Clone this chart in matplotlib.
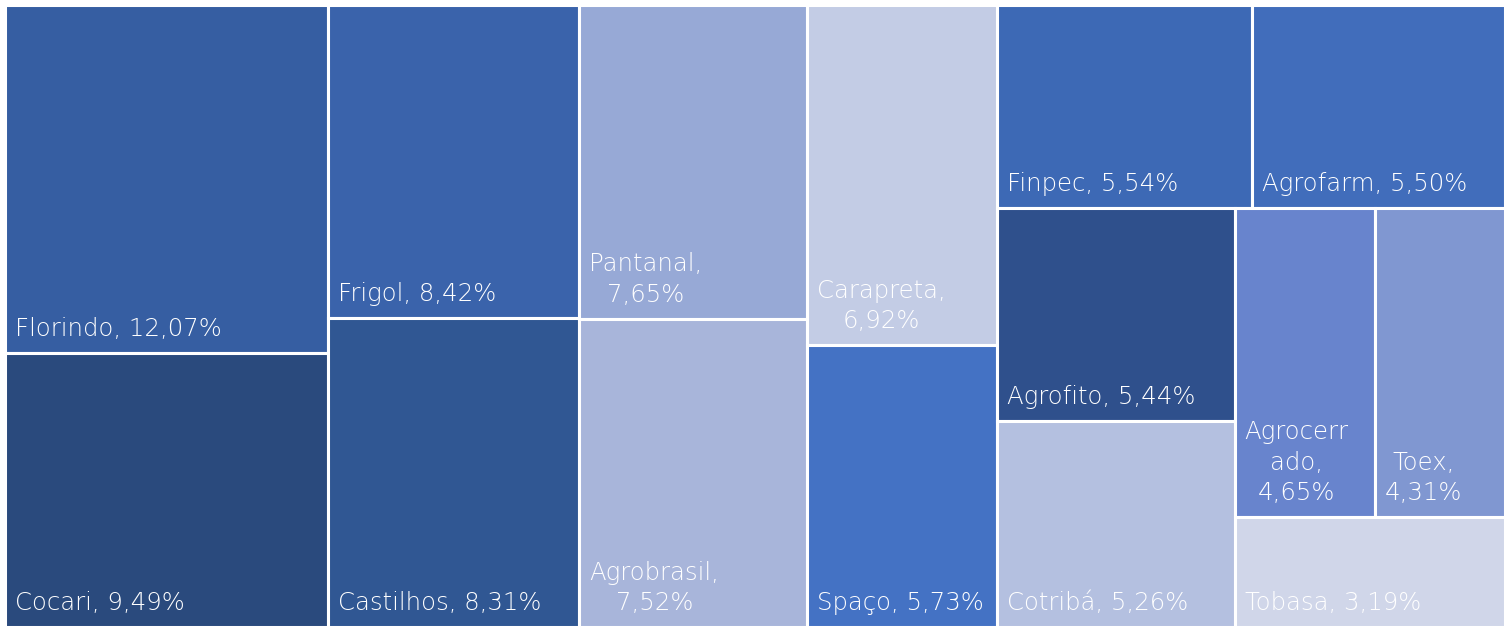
import matplotlib.pyplot as plt
from matplotlib.patches import Rectangle

# share of each company (%), in treemap order
names = ["Florindo", "Cocari", "Frigol", "Castilhos", "Pantanal", "Agrobrasil",
         "Carapreta", "Spaço", "Finpec", "Agrofarm", "Agrofito", "Cotribá",
         "Agrocerrado", "Toex", "Tobasa"]
shares = [12.07, 9.49, 8.42, 8.31, 7.65, 7.52, 6.92, 5.73, 5.54, 5.50,
          5.44, 5.26, 4.65, 4.31, 3.19]
labels = ["Florindo, 12,07%", "Cocari, 9,49%", "Frigol, 8,42%", "Castilhos, 8,31%",
          "Pantanal,\n7,65%", "Agrobrasil,\n7,52%", "Carapreta,\n6,92%",
          "Spaço, 5,73%", "Finpec, 5,54%", "Agrofarm, 5,50%", "Agrofito, 5,44%",
          "Cotribá, 5,26%", "Agrocerr\nado,\n4,65%", "Toex,\n4,31%", "Tobasa, 3,19%"]
colors = ["#365EA2", "#2A4A7D", "#3A63AB", "#305793", "#97A9D6", "#A8B5DA",
          "#C3CCE5", "#4472C4", "#3D69B5", "#416DBB", "#2F508C", "#B4C0E0",
          "#6884CD", "#8097D1", "#D0D6E9"]


def pair_layout(vals, x, y, w, h):
    # strips of two tiles, each laid along the shorter side of what is left
    rects = []
    i = 0
    while i < len(vals):
        grp = vals[i:i + 2]
        s = sum(grp)
        rest = sum(vals[i:])
        if w >= h:
            cw = w * s / rest
            yy = y
            for v in grp:
                hh = h * v / s
                rects.append((x, yy, cw, hh))
                yy += hh
            x += cw
            w -= cw
        else:
            rh = h * s / rest
            xx = x
            for v in grp:
                ww = w * v / s
                rects.append((xx, y, ww, rh))
                xx += ww
            y += rh
            h -= rh
        i += 2
    return rects


W, H = 1506, 628
fig = plt.figure(figsize=(W / 100, H / 100), dpi=100)
ax = fig.add_axes([0, 0, 1, 1])
ax.set_xlim(0, W)
ax.set_ylim(H, 0)
ax.axis("off")

rects = pair_layout(shares, 5, 5, 1500, 622)
for (x, y, w, h), lab, c in zip(rects, labels, colors):
    ax.add_patch(Rectangle((x, y), w, h, facecolor=c, edgecolor="white", linewidth=2.2))
    ax.text(x + 10, y + h - 12, lab, color="white", fontsize=17.6, family="DejaVu Sans",
            fontweight="light", ha="left", va="bottom", multialignment="center",
            linespacing=1.33)

fig.savefig("out.png", dpi=100)
